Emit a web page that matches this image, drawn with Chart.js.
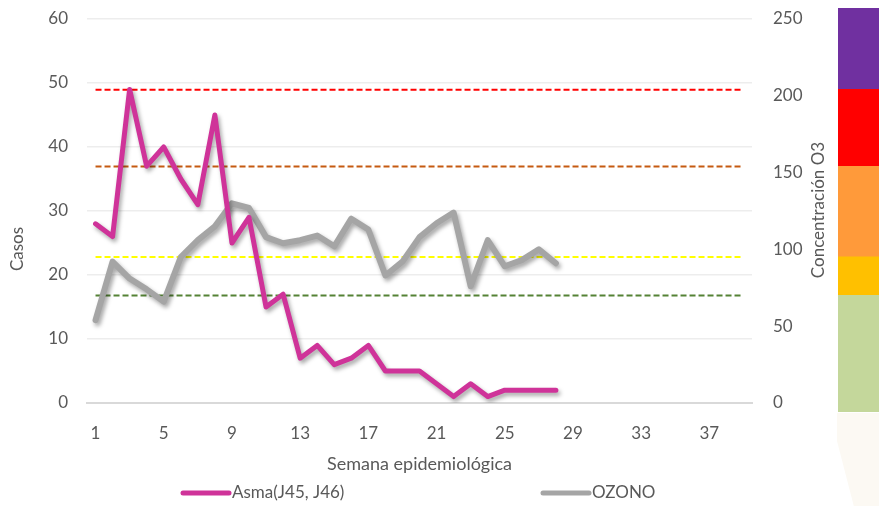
<!DOCTYPE html>
<html lang="es">
<head>
<meta charset="utf-8">
<title>Asma y ozono por semana epidemiológica</title>
<script src="https://cdn.jsdelivr.net/npm/chart.js@4.4.1/dist/chart.umd.min.js"></script>
<style>
    html, body { margin: 0; padding: 0; background: #fff; }
    #marco { position: relative; width: 879px; height: 506px; overflow: hidden; }
    #grafica { position: absolute; left: 0; top: 0; }
    #escala { position: absolute; left: 838px; top: 8px; }
    #fondo {
        position: absolute; left: 837px; top: 413px; width: 42px; height: 93px;
        background: #fcf9f3;
        clip-path: polygon(0 0, 100% 0, 100% 100%, 40% 100%, 0 30%);
    }
</style>
</head>
<body>
<div id="marco">
    <div id="fondo"></div>
    <canvas id="grafica" width="879" height="506"></canvas>
    <canvas id="escala" width="41" height="404"></canvas>
</div>
<script>
// semanas epidemiológicas del eje x
var semanas = ['1', '2', '3', '4', '5', '6', '7', '8', '9', '10',
               '11', '12', '13', '14', '15', '16', '17', '18', '19', '20',
               '21', '22', '23', '24', '25', '26', '27', '28', '29', '30',
               '31', '32', '33', '34', '35', '36', '37', '38', '39'];

// casos de asma (J45, J46) por semana
var asma = [28, 26, 49, 37, 40, 35, 31, 45, 25, 29, 15, 17, 7, 9, 6, 7, 9, 5, 5, 5,
            3, 1, 3, 1, 2, 2, 2, 2];

// concentración de ozono por semana
var ozono = [54, 92, 81, 74, 66, 95, 106, 115, 130, 127, 108, 104, 106, 109, 102, 120, 113, 83, 92, 108,
             117, 124, 76, 106, 89, 93, 100, 91];

// umbrales de ozono (líneas punteadas) y su color
var umbrales = [70, 95, 154, 204];
var coloresUmbral = ['#548235', '#FFFF00', '#C55A11', '#FF0000'];

// franjas de la barra de colores lateral (límites en la escala de ozono)
var limitesFranjas = [-6, 70, 95, 154, 204, 257];
var coloresFranjas = ['#C4D79B', '#FFC000', '#FF9A3A', '#FF0000', '#7030A0'];

var TEXTO = '#595959';
var FUENTE = 'Lato, "Open Sans", sans-serif';

Chart.defaults.font.family = FUENTE;
Chart.defaults.font.size = 17;
Chart.defaults.color = TEXTO;

// sombra suave bajo las series principales
var sombra = {
    id: 'sombra',
    beforeDatasetDraw: function (chart, args) {
        if (!chart.data.datasets[args.index].conSombra) return;
        var ctx = chart.ctx;
        ctx.save();
        ctx.shadowColor = 'rgba(0, 0, 0, 0.35)';
        ctx.shadowBlur = 4;
        ctx.shadowOffsetX = 2;
        ctx.shadowOffsetY = 3;
    },
    afterDatasetDraw: function (chart, args) {
        if (chart.data.datasets[args.index].conSombra) chart.ctx.restore();
    }
};

// títulos verticales de ambos ejes y
var titulos = {
    id: 'titulos',
    afterDraw: function (chart) {
        var ctx = chart.ctx;
        ctx.save();
        ctx.fillStyle = TEXTO;
        ctx.font = '17px ' + FUENTE;
        ctx.textAlign = 'center';
        ctx.textBaseline = 'middle';

        ctx.translate(18, 249);
        ctx.rotate(-Math.PI / 2);
        ctx.fillText('Casos', 0, 0);
        ctx.setTransform(1, 0, 0, 1, 0, 0);

        ctx.translate(819, 210);
        ctx.rotate(-Math.PI / 2);
        ctx.fillText('Concentración O3', 0, 0);
        ctx.restore();
    }
};

// leyenda inferior con dos entradas muy separadas
var leyenda = {
    id: 'leyenda',
    afterDraw: function (chart, args, opts) {
        var ctx = chart.ctx;
        ctx.save();
        ctx.font = '17px ' + FUENTE;
        ctx.textBaseline = 'middle';
        ctx.textAlign = 'left';
        opts.posiciones.forEach(function (x, i) {
            var ds = chart.data.datasets[i];
            ctx.strokeStyle = ds.borderColor;
            ctx.lineWidth = 5;
            ctx.lineCap = 'round';
            ctx.beginPath();
            ctx.moveTo(x + 2, opts.y);
            ctx.lineTo(x + 48, opts.y);
            ctx.stroke();
            ctx.fillStyle = TEXTO;
            ctx.fillText(ds.label, x + 51, opts.y);
        });
        ctx.restore();
    }
};

var datasets = [
    {
        label: 'Asma(J45, J46)',
        data: asma,
        yAxisID: 'y',
        borderColor: '#CF3399',
        borderWidth: 5,
        borderJoinStyle: 'round',
        borderCapStyle: 'round',
        pointRadius: 0,
        conSombra: true,
        order: 0
    },
    {
        label: 'OZONO',
        data: ozono,
        yAxisID: 'y1',
        borderColor: '#A5A5A5',
        borderWidth: 6,
        borderJoinStyle: 'round',
        borderCapStyle: 'round',
        pointRadius: 0,
        conSombra: true,
        order: 1
    }
];

umbrales.forEach(function (u, i) {
    datasets.push({
        label: 'Umbral ' + u,
        data: semanas.map(function () { return u; }),
        yAxisID: 'y1',
        borderColor: coloresUmbral[i],
        borderWidth: 2,
        borderDash: [6, 3],
        pointRadius: 0,
        order: 5
    });
});

new Chart(document.getElementById('grafica'), {
    type: 'line',
    data: { labels: semanas, datasets: datasets },
    options: {
        responsive: false,
        animation: false,
        layout: { padding: { top: 19, right: 0, bottom: 0, left: 0 } },
        plugins: {
            legend: { display: false },
            tooltip: { enabled: false },
            leyenda: { y: 493, posiciones: [181, 541] }
        },
        scales: {
            x: {
                offset: true,
                grid: { display: false, drawTicks: false },
                border: { color: '#D9D9D9', width: 2 },
                ticks: {
                    autoSkip: false,
                    maxRotation: 0,
                    padding: 20,
                    callback: function (v, i) { return i % 4 === 0 ? semanas[i] : ''; }
                },
                title: {
                    display: true,
                    text: 'Semana epidemiológica',
                    font: { size: 18 },
                    padding: { top: 6, bottom: 31 }
                },
                afterFit: function (s) { s.height = 103; }
            },
            y: {
                position: 'left',
                min: 0,
                max: 60,
                ticks: { stepSize: 10, padding: 3 },
                grid: { color: '#EDEDED', lineWidth: 1.5, tickLength: 16, tickColor: 'rgba(0,0,0,0)' },
                border: { display: false },
                afterFit: function (s) { s.width = 87; }
            },
            y1: {
                position: 'right',
                min: 0,
                max: 250,
                ticks: { stepSize: 50, padding: 3 },
                grid: { drawOnChartArea: false, tickLength: 18, tickColor: 'rgba(0,0,0,0)' },
                border: { display: false },
                afterFit: function (s) { s.width = 127; }
            }
        }
    },
    plugins: [sombra, titulos, leyenda]
});

// barra de colores con las franjas de calidad del aire
new Chart(document.getElementById('escala'), {
    type: 'bar',
    data: {
        labels: ['O3'],
        datasets: coloresFranjas.map(function (c, i) {
            return {
                data: [[limitesFranjas[i], limitesFranjas[i + 1]]],
                backgroundColor: c,
                barPercentage: 1,
                categoryPercentage: 1,
                grouped: false
            };
        })
    },
    options: {
        responsive: false,
        animation: false,
        layout: { padding: 0 },
        plugins: { legend: { display: false }, tooltip: { enabled: false } },
        scales: {
            x: { display: false },
            y: { display: false, min: limitesFranjas[0], max: limitesFranjas[limitesFranjas.length - 1] }
        }
    }
});
</script>
</body>
</html>
